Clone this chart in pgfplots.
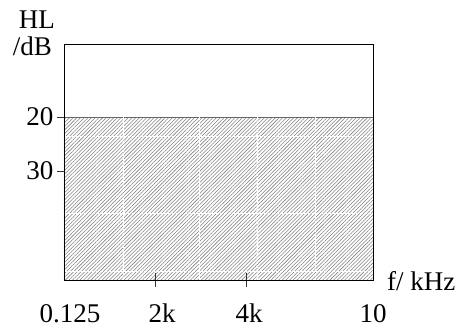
\documentclass[border=0pt]{standalone}
\usepackage{fontspec}
\setmainfont{Liberation Serif}
\usepackage{pgfplots}
\pgfplotsset{compat=1.18}
\usetikzlibrary{patterns.meta}
\begin{document}
\begin{tikzpicture}
\useasboundingbox (-64pt,-47pt) rectangle (396pt,280pt);
\begin{axis}[
  at={(0,0)}, anchor=south west,
  scale only axis, width=309pt, height=236pt,
  xmin=0, xmax=309, ymin=6.48, ymax=50.19, y dir=reverse,
  axis line style={black, line width=0.9pt},
  axis on top=true,
  clip=false,
  xtick={91,182}, xticklabels={,},
  tick align=center, major tick length=14pt,
  tick style={black!80, line width=0.6pt},
  ytick=\empty,
  extra y ticks={20,30}, extra y tick labels={20,30},
  extra y tick style={tick align=outside, major tick length=7pt},
  extra x ticks={6,98,185,309}, extra x tick labels={0.125,2k,4k,10},
  extra x tick style={major tick length=0pt, tick label style={anchor=base, inner sep=0pt, yshift=-42pt}},
  tick label style={font=\fontsize{27}{30}\selectfont},
  /pgf/number format/assume math mode=true,
  xtick pos=bottom, ytick pos=left,
]
\addplot[draw=none, pattern={Lines[angle=45,distance=2.6pt,line width=0.55pt]}, pattern color=black!50]
  coordinates {(0,20) (309,20) (309,50.19) (0,50.19)} -- cycle;
\addplot[black!60, line width=0.7pt] coordinates {(0,20) (309,20)};
\addplot[white, line width=1pt, dash pattern=on 3pt off 1pt] coordinates {(0,23.52) (309,23.52)};
\addplot[white, line width=1pt, dash pattern=on 3pt off 1pt] coordinates {(0,37.78) (309,37.78)};
\addplot[white, line width=1pt, dash pattern=on 3pt off 1pt] coordinates {(0,48.70) (309,48.70)};
\addplot[white, line width=1pt, dash pattern=on 3pt off 1pt] coordinates {(59,20) (59,50.19)};
\addplot[white, line width=1pt, dash pattern=on 3pt off 1pt] coordinates {(135,20) (135,50.19)};
\addplot[white, line width=1pt, dash pattern=on 3pt off 1pt] coordinates {(193,20) (193,50.19)};
\addplot[white, line width=1pt, dash pattern=on 3pt off 1pt] coordinates {(251,20) (251,50.19)};
\node[anchor=base east, font=\fontsize{27}{30}\selectfont, inner sep=0pt] at ([xshift=-9pt,yshift=16pt]axis description cs:0,1) {HL};
\node[anchor=base east, font=\fontsize{27}{30}\selectfont, inner sep=0pt] at ([xshift=-12pt,yshift=-11pt]axis description cs:0,1) {/dB};
\node[anchor=base west, font=\fontsize{27}{30}\selectfont, inner sep=0pt] at ([xshift=14pt,yshift=-10pt]axis description cs:1,0) {f/ kHz};
\end{axis}
\end{tikzpicture}
\end{document}
